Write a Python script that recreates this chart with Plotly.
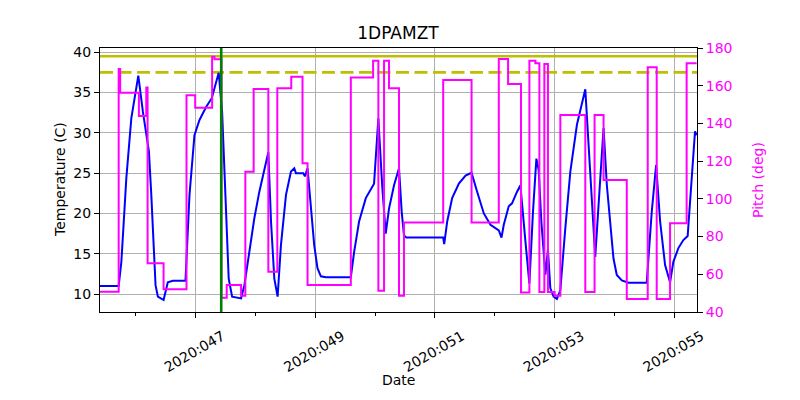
import pandas as pd
import plotly.graph_objects as go

# Temperature (1DPAMZT) samples: day-of-year 2020, degC
temp_doy = [45.40, 45.717, 45.762, 45.845, 45.928, 46.045, 46.122, 46.222, 46.262, 46.30,
            46.333, 46.372, 46.467, 46.538, 46.622, 46.833, 46.90, 46.983, 47.067, 47.178,
            47.272, 47.388, 47.445, 47.50, 47.555, 47.612, 47.762, 47.817, 47.90, 47.983,
            48.067, 48.15, 48.217, 48.262, 48.317, 48.372, 48.428, 48.512, 48.595, 48.65,
            48.678, 48.80, 48.828, 48.872, 48.928, 48.983, 49.038, 49.095, 49.178, 49.595,
            49.65, 49.733, 49.845, 49.983, 50.055, 50.122, 50.178, 50.233, 50.317, 50.40,
            50.445, 50.483, 50.522, 51.138, 51.155, 51.205, 51.288, 51.40, 51.512, 51.612,
            51.705, 51.817, 51.928, 52.067, 52.112, 52.15, 52.233, 52.288, 52.372, 52.428,
            52.512, 52.578, 52.638, 52.695, 52.733, 52.778, 52.845, 52.888, 52.928, 52.983,
            53.038, 53.095, 53.178, 53.262, 53.372, 53.512, 53.567, 53.622, 53.678, 53.733,
            53.817, 53.872, 53.928, 53.983, 54.038, 54.122, 54.233, 54.538, 54.622, 54.695,
            54.762, 54.845, 54.928, 54.983, 55.067, 55.15, 55.222, 55.288, 55.345, 55.372]
temp_val = [11.0, 11.0, 14.0, 24.4, 31.8, 37.1, 32.6, 27.7, 22.3, 16.1,
            11.1, 9.67, 9.26, 11.45, 11.65, 11.65, 22.3, 29.7, 31.6, 33.2,
            34.3, 37.45, 32.6, 22.3, 11.9, 9.67, 9.46, 11.1, 15.2, 19.4,
            22.7, 25.4, 27.6, 19.0, 11.9, 9.67, 16.1, 22.3, 25.2, 25.6,
            25.0, 25.0, 24.6, 25.6, 20.2, 16.1, 13.2, 12.2, 12.07, 12.07,
            15.2, 19.0, 21.9, 23.7, 31.8, 23.1, 17.5, 20.6, 23.5, 25.6,
            20.2, 17.3, 17.0, 17.0, 16.2, 19.0, 21.9, 23.7, 24.7, 25.05,
            22.7, 20.0, 18.6, 17.9, 17.0, 18.6, 20.9, 21.25, 22.7, 23.5,
            16.5, 11.3, 20.2, 26.8, 25.4, 19.0, 12.4, 15.5, 10.7, 9.67,
            9.38, 10.5, 18.15, 25.2, 31.0, 35.4, 28.5, 21.5, 14.6, 21.0,
            30.6, 23.5, 18.6, 14.4, 12.36, 11.7, 11.4, 11.4, 20.2, 26.0,
            19.0, 13.6, 11.45, 14.0, 15.7, 16.7, 17.2, 24.4, 30.2, 29.7]

# Pitch (deg): step changes, day-of-year 2020
pitch_doy = [45.40, 45.717, 45.742, 46.055, 46.178, 46.20, 46.467, 46.85, 46.995, 47.278,
             47.317, 47.433, 47.522, 47.762, 47.833, 47.972, 48.217, 48.367, 48.60, 48.788,
             48.872, 49.595, 49.967, 50.055, 50.15, 50.233, 50.40, 50.483, 51.138, 51.612,
             52.067, 52.222, 52.438, 52.578, 52.678, 52.745, 52.828, 52.888, 53.0, 53.095,
             53.512, 53.667, 53.817, 54.205, 54.555, 54.705, 54.928, 55.205, 55.372]
pitch_val = [50.8, 168.9, 156.3, 144.0, 159.0, 65.8, 52.0, 155.0, 148.3, 175.4,
             174.0, 47.6, 54.3, 48.6, 114.4, 158.3, 61.4, 158.6, 164.8, 118.9,
             54.3, 164.3, 173.3, 51.3, 173.3, 158.6, 48.6, 87.4, 163.0, 87.4,
             174.2, 160.9, 50.4, 173.3, 171.9, 50.6, 171.5, 50.6, 48.6, 144.5,
             50.6, 144.5, 110.0, 46.9, 169.8, 46.9, 87.0, 171.9, 171.9]

planning_limit = 39.5
yellow_limit = 37.5
now_doy = 47.43
x_range_doy = [45.405, 55.378]
temp_range = [7.77, 40.53]
pitch_range = [40, 180]


def doy_to_dt(d):
    return pd.Timestamp("2020-01-01") + pd.to_timedelta(d - 1, unit="D")


tx = [doy_to_dt(d) for d in temp_doy]
px_ = [doy_to_dt(d) for d in pitch_doy]
xr = [doy_to_dt(d) for d in x_range_doy]
now_x = doy_to_dt(now_doy)

fig = go.Figure()
fig.add_trace(go.Scatter(x=xr, y=[planning_limit] * 2, mode="lines",
                         line=dict(color="#bfbf00", width=2.6), showlegend=False))
fig.add_trace(go.Scatter(x=xr, y=[yellow_limit] * 2, mode="lines",
                         line=dict(color="#bfbf00", width=2.6, dash="13px,5.5px"), showlegend=False))
fig.add_trace(go.Scatter(x=tx, y=temp_val, mode="lines",
                         line=dict(color="#0000ff", width=2), showlegend=False))
fig.add_trace(go.Scatter(x=px_, y=pitch_val, mode="lines", yaxis="y2",
                         line=dict(color="#ff00ff", width=2, shape="hv"), showlegend=False))

fig.add_shape(type="line", xref="x", yref="paper", x0=now_x, x1=now_x, y0=0, y1=1,
              line=dict(color="#008000", width=2.6), layer="above")

font = "DejaVu Sans, Arial, sans-serif"
fig.update_layout(
    width=800, height=400,
    margin=dict(l=100, r=103, t=48, b=88),
    paper_bgcolor="white", plot_bgcolor="white",
    font=dict(family=font, size=14, color="black"),
    title=dict(text="1DPAMZT", x=0.4975, xanchor="center", y=1 - 33 / 400, yanchor="middle",
               font=dict(size=17)),
    xaxis=dict(type="date", range=xr, tick0=doy_to_dt(47), dtick=2 * 86400000,
               tickformat="%Y:%j", tickangle=-30, ticks="outside", ticklen=5,
               ticklabelshift=27, ticklabelstandoff=5,
               tickcolor="black", tickwidth=1, showgrid=True, gridcolor="#b0b0b0", gridwidth=1,
               showline=True, linecolor="black", linewidth=1, mirror=True, zeroline=False,
               minor=dict(dtick=86400000, tick0=doy_to_dt(47), ticks="outside", ticklen=3,
                          tickcolor="black", showgrid=False)),
    yaxis=dict(range=temp_range, tick0=10, dtick=5, ticks="outside", ticklen=5,
               tickcolor="black", showgrid=True, gridcolor="#b0b0b0", gridwidth=1,
               showline=True, linecolor="black", linewidth=1, zeroline=False),
    yaxis2=dict(range=pitch_range, overlaying="y", side="right", tick0=40, dtick=20,
                ticks="outside", ticklen=5, tickcolor="black", showgrid=False,
                showline=True, linecolor="black", linewidth=1, zeroline=False,
                tickfont=dict(color="#ff00ff")),
    annotations=[
        dict(text="Date", xref="paper", yref="paper", x=(398 - 100) / 597, y=(312 - 380) / 264,
             xanchor="center", yanchor="middle", showarrow=False, font=dict(size=14)),
        dict(text="Temperature (C)", xref="paper", yref="paper", x=(60 - 100) / 597, y=0.5,
             xanchor="center", yanchor="middle", textangle=-90, showarrow=False, font=dict(size=14)),
        dict(text="Pitch (deg)", xref="paper", yref="paper", x=(758 - 100) / 597, y=0.5,
             xanchor="center", yanchor="middle", textangle=-90, showarrow=False,
             font=dict(size=14, color="#ff00ff")),
    ],
)

fig.write_html("out.html")
